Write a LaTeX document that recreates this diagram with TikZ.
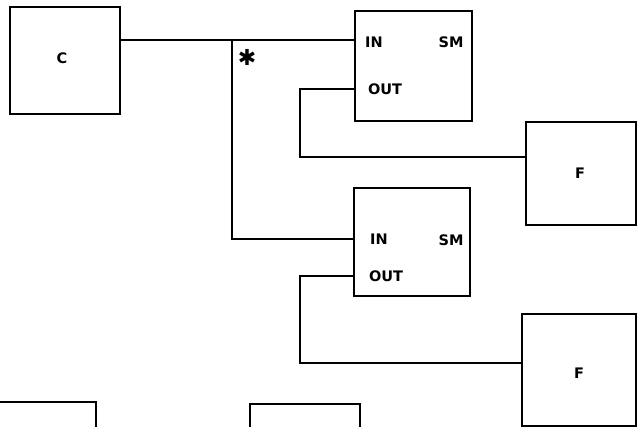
\documentclass[tikz,border=0pt]{standalone}
\usepackage{fontspec}
\newfontfamily\labelfont{DejaVu Sans}
\usetikzlibrary{positioning, calc}
\tikzset{
  unitbox/.style={draw, line width=2.1pt, minimum width=#1, inner sep=0pt},
  portlbl/.style={font=\labelfont\bfseries\fontsize{14.5}{15}\selectfont, inner sep=0pt},
  wire/.style={line width=1.8pt},
}
\begin{document}
\begin{tikzpicture}[x=1pt, y=-1pt]
  \useasboundingbox (0,0) rectangle (642,426);
  \clip (0,0) rectangle (642,426);
  % controller and the two state machines
  \node[unitbox=110pt, minimum height=107pt] (ctl) at (65,60.5) {};
  \node[portlbl] at (62,58) {C};
  \node[unitbox=117pt, minimum height=110pt] (sm1) at (413.5,66) {};
  \node[unitbox=116pt, minimum height=108pt] (sm2) at (412,242) {};
  \node[portlbl] (in1) at (374,42) {IN};
  \node[portlbl] at (451,42) {SM};
  \node[portlbl] (out1) at (385,89) {OUT};
  \node[portlbl] (in2) at (379,239) {IN};
  \node[portlbl] at (451,240) {SM};
  \node[portlbl] (out2) at (386,276) {OUT};
  % function blocks on the right
  \node[unitbox=110pt, minimum height=103pt] (fn1) at (581,173.5) {};
  \node[portlbl] at (580,173) {F};
  \node[unitbox=114pt, minimum height=112pt] (fn2) at (579,370) {};
  \node[portlbl] at (579,373) {F};
  % boxes cut by the lower edge
  \node[unitbox=110pt, minimum height=60pt] (low1) at (41,432) {};
  \node[unitbox=110pt, minimum height=60pt] (low2) at (305,434) {};
  % wiring
  \coordinate (fork) at (232,40);
  \coordinate (bend1) at (300,157);
  \coordinate (bend2) at (300,363);
  \node[font=\labelfont\bfseries\fontsize{22}{22}\selectfont, inner sep=0pt] (star) at (247,57) {✱};
  \draw[wire] (ctl.east |- fork) -- (sm1.west |- fork);
  \draw[wire] (fork) |- (sm2.west |- in2);
  \draw[wire] (sm1.west |- out1) -| (bend1) -- (fn1.west |- bend1);
  \draw[wire] (sm2.west |- out2) -| (bend2) -- (fn2.west |- bend2);
\end{tikzpicture}
\end{document}
